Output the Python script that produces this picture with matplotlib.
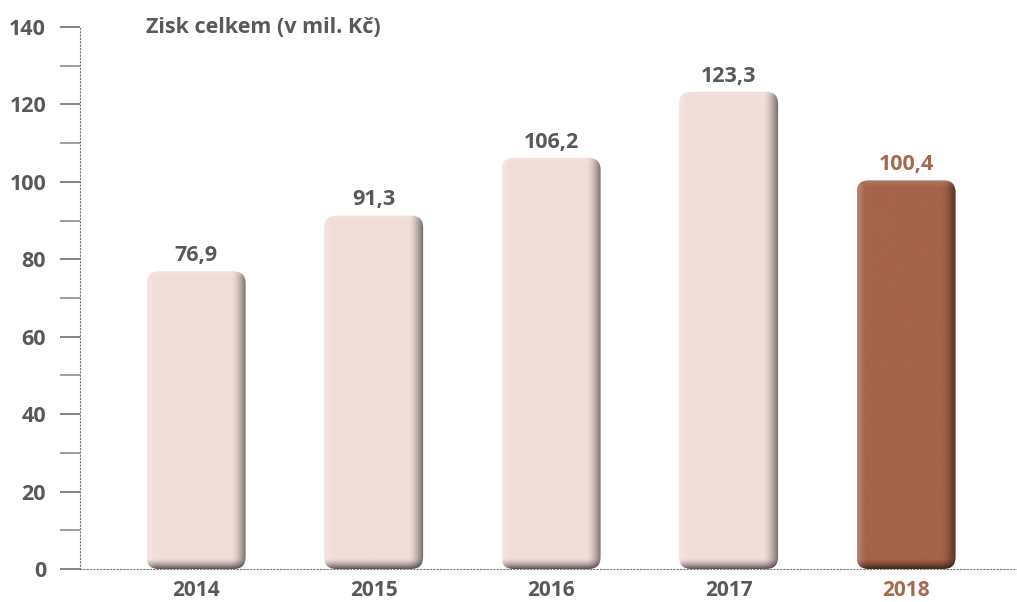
import numpy as np
import matplotlib
matplotlib.use("Agg")
import matplotlib.pyplot as plt
from matplotlib.patches import FancyBboxPatch
from matplotlib.colors import to_rgb

years = ["2014", "2015", "2016", "2017", "2018"]
zisk = [76.9, 91.3, 106.2, 123.3, 100.4]
labels = ["76,9", "91,3", "106,2", "123,3", "100,4"]
yticks = [0, 20, 40, 60, 80, 100, 120, 140]

light = "#f2ded8"
dark = "#a4634a"
gray = "#58595b"
accent = "#a8684d"

plt.rcParams['font.family'] = ['Open Sans', 'DejaVu Sans']

PX_PER_UNIT = 3.871   # vertical pixels per value unit
BAR_PX = 99           # bar width in pixels


def shaded(color, h_px, w_px=BAR_PX):
    """Build an RGB image that looks like a bevelled bar (pixel based)"""
    base = np.array(to_rgb(color))
    nx, ny = int(w_px), max(int(h_px), 20)
    xs = np.arange(nx)
    ys = np.arange(ny)  # 0 = bottom
    f = np.ones((ny, nx))
    right = np.clip((xs - (nx - 16)) / 16.0, 0, 1)
    f = f * (1 - 0.6 * right[None, :] ** 1.6)
    bot = np.clip((10 - ys) / 10.0, 0, 1)
    f = f * (1 - 0.6 * bot[:, None] ** 1.4)
    img = base[None, None, :] * f[:, :, None]
    left = np.clip((8 - xs) / 8.0, 0, 1)
    top = np.clip((ys - (ny - 8)) / 8.0, 0, 1)
    hl = np.maximum(left[None, :] * 0.22, top[:, None] * 0.15)
    img = img + (1 - img) * hl[:, :, None]
    return np.clip(img[::-1], 0, 1)


fig = plt.figure(figsize=(10.17, 6.02), dpi=100)
ax = fig.add_axes([0.0787, 0.0548, 0.9213, 0.9003])
ax.set_xlim(-0.654, 4.625)
ax.set_ylim(0, 140)

width = 0.558
rx = 0.068
aspect = (12 / PX_PER_UNIT) / rx
for i, (v, lab) in enumerate(zip(zisk, labels)):
    col = dark if i == len(zisk) - 1 else light
    x0 = i - width / 2
    patch = FancyBboxPatch((x0, 0), width, v,
                           boxstyle=f"round,pad=0,rounding_size={rx}",
                           mutation_aspect=aspect,
                           facecolor="none", edgecolor="none")
    ax.add_patch(patch)
    im = ax.imshow(shaded(col, v * PX_PER_UNIT), extent=(x0, x0 + width, 0, v),
                   aspect="auto", interpolation="bilinear", zorder=2)
    im.set_clip_path(patch)
    tcol = accent if i == len(zisk) - 1 else gray
    ax.text(i, v + 2.6, lab, ha="center", va="baseline", fontsize=15.5,
            fontweight="bold", color=tcol)

ax.set_xticks(range(len(years)))
ax.set_xticklabels(years)
for i, t in enumerate(ax.get_xticklabels()):
    t.set_color(accent if i == len(years) - 1 else gray)
    t.set_fontweight("bold")
    t.set_fontsize(15)
ax.tick_params(axis="x", length=0, pad=8)

ax.set_yticks(yticks)
ax.set_yticks(range(10, 140, 20), minor=True)
ax.tick_params(axis="y", which="major", length=14.4, width=1.2, color="#6e6e6e",
               labelsize=15.5, labelcolor=gray, pad=10)
ax.tick_params(axis="y", which="minor", length=14.4, width=1.2, color="#8e8e8e")
for t in ax.get_yticklabels():
    t.set_fontweight("bold")

for s in ["top", "right"]:
    ax.spines[s].set_visible(False)
for s in ["left", "bottom"]:
    ax.spines[s].set_linestyle((0, (1, 2)))
    ax.spines[s].set_color("#777777")
    ax.spines[s].set_linewidth(0.8)

ax.text(0.07, 1.0, "Zisk celkem (v mil. Kč)", transform=ax.transAxes,
        ha="left", va="center", fontsize=15.5, fontweight="bold", color=gray)

fig.savefig("out.png", dpi=100)
